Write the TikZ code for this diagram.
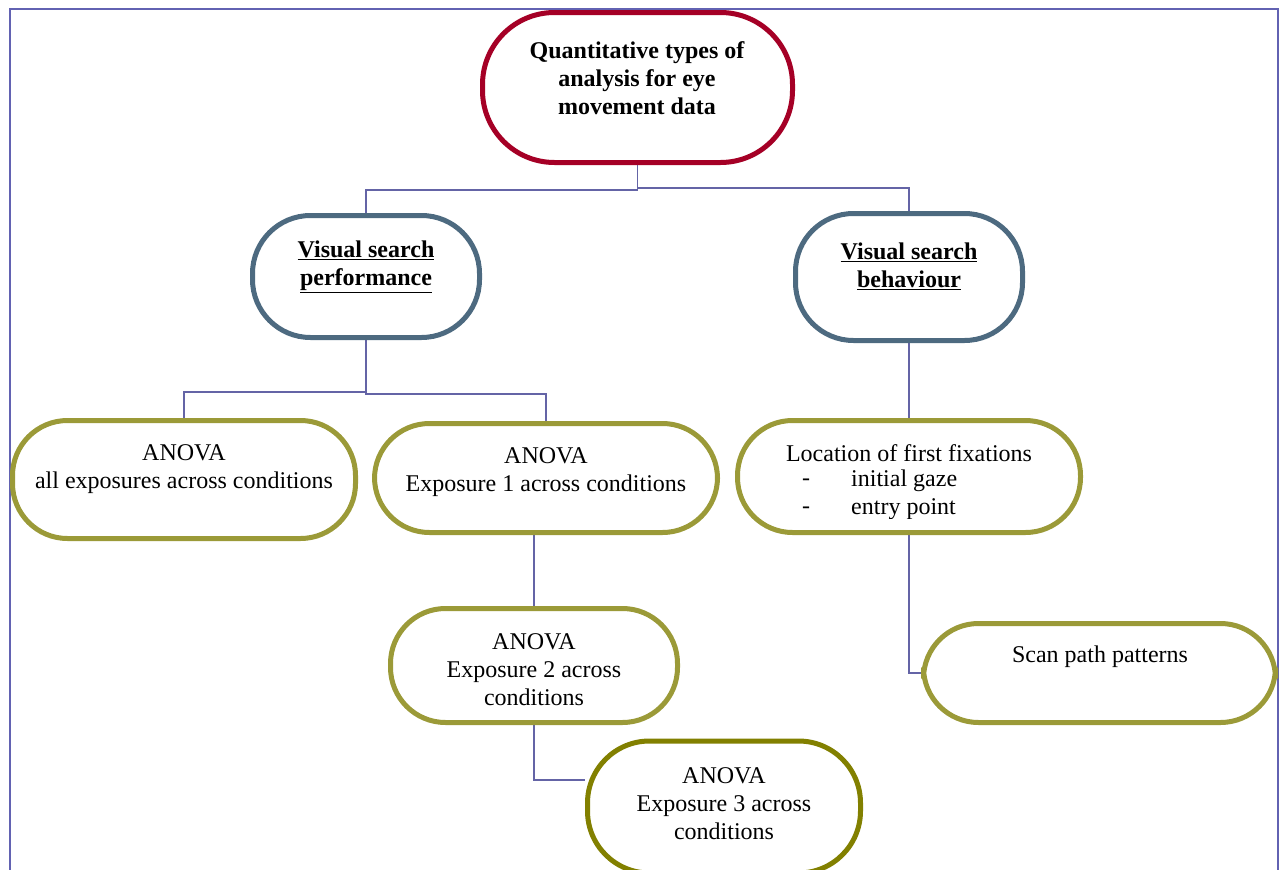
\documentclass[tikz,border=0pt]{standalone}
\usepackage{fontspec}
\setmainfont{Liberation Serif}
\usetikzlibrary{backgrounds}
\definecolor{rootred}{HTML}{A50026}
\definecolor{slate}{HTML}{4D6A80}
\definecolor{olive}{HTML}{9B9A38}
\definecolor{darkolive}{HTML}{828000}
\definecolor{linkblue}{HTML}{6464A6}
\definecolor{framecol}{HTML}{6262B2}
\tikzset{
  x=1pt, y=-1pt,
  box/.style={draw, fill=white, line width=5pt, rounded corners=#1, inner sep=0pt},
  rootbox/.style={box=72pt, draw=rootred},
  catbox/.style={box=58pt, draw=slate},
  leafbox/.style={box=55pt, draw=olive},
  lastbox/.style={box=62pt, draw=darkolive},
  txt/.style={font=\fontsize{24}{28}\selectfont, align=center, inner sep=0pt},
  btxt/.style={txt, font=\fontsize{24}{28}\selectfont\bfseries},
  link/.style={draw=linkblue, line width=1.4pt},
}
\begin{document}
\begin{tikzpicture}
\useasboundingbox (0,0) rectangle (1285,870);

% boxes
\node[rootbox, minimum width=310pt, minimum height=150pt] (top) at (637.5,87.5) {};
\node[catbox, minimum width=227pt, minimum height=122pt] (vsp) at (366,276.5) {};
\node[catbox, minimum width=227pt, minimum height=127pt] (vsb) at (909,277) {};
\node[leafbox, minimum width=343pt, minimum height=118pt] (all) at (184,479.5) {};
\node[leafbox, minimum width=343pt, minimum height=109pt] (e1) at (546,478) {};
\node[leafbox, minimum width=343pt, minimum height=112pt] (loc) at (909,476.5) {};
\node[leafbox, minimum width=287pt, minimum height=114pt] (e2) at (534,665.5) {};
\node[lastbox, minimum width=273pt, minimum height=132pt] (e3) at (724,807) {};
\node[leafbox, minimum width=352pt, minimum height=99pt] (scan) at (1099.5,673) {};

% page, frame and connectors behind the boxes
\begin{pgfonlayer}{background}
\fill[white] (0,0) rectangle (1285,870);
\draw[framecol, line width=1.3pt] (10,9) rectangle (1278,900);
\draw[link] (top.south) -- ++(0,25) -| (vsp.north);
\draw[link] (top.south) -- ++(0,23) -| (vsb.north);
\draw[link] (vsp.south) -- ++(0,52) -| (all.north);
\draw[link] (vsp.south) -- ++(0,54) -| (e1.north);
\draw[link] (vsb.south) -- (loc.north);
\draw[link] (e2.north) -- (e2.north |- e1.south);
\draw[link] (e2.south) |- ([yshift=27pt]e3.west);
\draw[link] (loc.south) |- (scan.west);
\end{pgfonlayer}

% labels
\node[btxt] (top-t) at (637,78) {Quantitative types of\\analysis for eye\\movement data};
\node[btxt] (vsp-t) at (366,267) {\underline{Visual search}\\\underline{performance}};
\node[btxt] (vsb-t) at (909,266) {\underline{Visual search}\\\underline{behaviour}};
\node[txt] (all-t) at (184,469.5) {ANOVA\\all exposures across conditions};
\node[txt] (e1-t) at (546,472) {ANOVA\\Exposure 1 across conditions};
\node[txt] (loc-t1) at (909,453) {Location of first fixations};
\node[txt] (loc-d1) at (806,482) {-};
\node[txt, anchor=west] (loc-t2) at (851,481) {initial gaze};
\begin{scope}
\clip (740,490) rectangle (1080,518);
\node[txt] (loc-d2) at (806,510) {-};
\node[txt, anchor=west] (loc-t3) at (851,509) {entry point};
\end{scope}
\node[txt] (e2-t) at (534,670) {ANOVA\\Exposure 2 across\\conditions};
\node[txt] (e3-t) at (724,804) {ANOVA\\Exposure 3 across\\conditions};
\node[txt] (scan-t) at (1100,657) {Scan path patterns};
\end{tikzpicture}
\end{document}
